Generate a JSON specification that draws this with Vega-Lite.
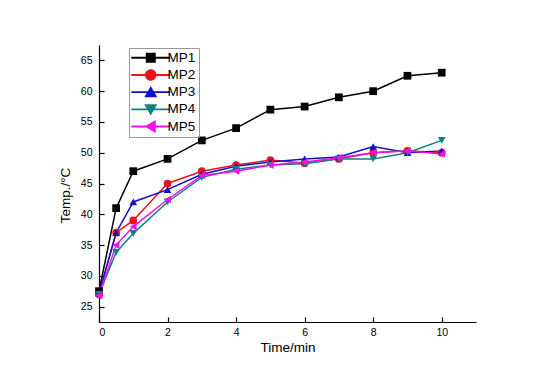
{
  "$schema": "https://vega.github.io/schema/vega-lite/v6.json",
  "autosize": {"type": "none"},
  "width": 377,
  "height": 277,
  "padding": {"left": 99, "top": 45, "right": 77, "bottom": 65},
  "background": "white",
  "config": {
    "view": {"stroke": null},
    "font": "Liberation Sans",
    "axis": {
      "domainColor": "black", "domainWidth": 1.2, "tickColor": "black", "tickWidth": 1.2,
      "tickSize": -5, "labelColor": "black", "labelFontSize": 10.5, "labelFont": "Liberation Sans",
      "titleFont": "Liberation Sans", "titleFontWeight": "normal", "titleFontSize": 13.5, "titleColor": "black",
      "grid": false
    }
  },
  "data": {"values": [
    {"t": 0, "series": "MP1", "temp": 27.5}, {"t": 0.5, "series": "MP1", "temp": 41}, {"t": 1, "series": "MP1", "temp": 47}, {"t": 2, "series": "MP1", "temp": 49}, {"t": 3, "series": "MP1", "temp": 52}, {"t": 4, "series": "MP1", "temp": 54}, {"t": 5, "series": "MP1", "temp": 57}, {"t": 6, "series": "MP1", "temp": 57.5}, {"t": 7, "series": "MP1", "temp": 59}, {"t": 8, "series": "MP1", "temp": 60}, {"t": 9, "series": "MP1", "temp": 62.5}, {"t": 10, "series": "MP1", "temp": 63},
    {"t": 0, "series": "MP2", "temp": 27}, {"t": 0.5, "series": "MP2", "temp": 37}, {"t": 1, "series": "MP2", "temp": 39}, {"t": 2, "series": "MP2", "temp": 45}, {"t": 3, "series": "MP2", "temp": 47}, {"t": 4, "series": "MP2", "temp": 48}, {"t": 5, "series": "MP2", "temp": 48.8}, {"t": 6, "series": "MP2", "temp": 48.3}, {"t": 7, "series": "MP2", "temp": 49}, {"t": 8, "series": "MP2", "temp": 50}, {"t": 9, "series": "MP2", "temp": 50.3}, {"t": 10, "series": "MP2", "temp": 50},
    {"t": 0, "series": "MP3", "temp": 27.2}, {"t": 0.5, "series": "MP3", "temp": 37}, {"t": 1, "series": "MP3", "temp": 42}, {"t": 2, "series": "MP3", "temp": 44}, {"t": 3, "series": "MP3", "temp": 46.5}, {"t": 4, "series": "MP3", "temp": 47.8}, {"t": 5, "series": "MP3", "temp": 48.5}, {"t": 6, "series": "MP3", "temp": 49}, {"t": 7, "series": "MP3", "temp": 49.3}, {"t": 8, "series": "MP3", "temp": 51}, {"t": 9, "series": "MP3", "temp": 50}, {"t": 10, "series": "MP3", "temp": 50.3},
    {"t": 0, "series": "MP4", "temp": 27}, {"t": 0.5, "series": "MP4", "temp": 33.8}, {"t": 1, "series": "MP4", "temp": 36.9}, {"t": 2, "series": "MP4", "temp": 42}, {"t": 3, "series": "MP4", "temp": 46}, {"t": 4, "series": "MP4", "temp": 47.3}, {"t": 5, "series": "MP4", "temp": 48}, {"t": 6, "series": "MP4", "temp": 48.2}, {"t": 7, "series": "MP4", "temp": 49}, {"t": 8, "series": "MP4", "temp": 49}, {"t": 9, "series": "MP4", "temp": 50}, {"t": 10, "series": "MP4", "temp": 52},
    {"t": 0, "series": "MP5", "temp": 26.8}, {"t": 0.5, "series": "MP5", "temp": 35}, {"t": 1, "series": "MP5", "temp": 38}, {"t": 2, "series": "MP5", "temp": 42.4}, {"t": 3, "series": "MP5", "temp": 46.3}, {"t": 4, "series": "MP5", "temp": 47}, {"t": 5, "series": "MP5", "temp": 48}, {"t": 6, "series": "MP5", "temp": 48.5}, {"t": 7, "series": "MP5", "temp": 49.2}, {"t": 8, "series": "MP5", "temp": 50}, {"t": 9, "series": "MP5", "temp": 50.3}, {"t": 10, "series": "MP5", "temp": 49.8}
  ]},
  "encoding": {
    "x": {"field": "t", "type": "quantitative", "scale": {"domain": [0, 11], "nice": false, "zero": false},
      "axis": {"values": [0, 2, 4, 6, 8, 10], "title": "Time/min", "labelPadding": 10, "titlePadding": 3}},
    "y": {"field": "temp", "type": "quantitative", "scale": {"domain": [22.5, 67.5], "nice": false, "zero": false},
      "axis": {"values": [25, 30, 35, 40, 45, 50, 55, 60, 65], "title": "Temp./°C", "labelPadding": 12, "titlePadding": 8, "titleY": 150}}
  },
  "layer": [
    {
      "mark": {"type": "line", "strokeWidth": 1.5},
      "encoding": {
        "color": {"field": "series", "type": "nominal", "legend": null,
          "scale": {"domain": ["MP1", "MP2", "MP3", "MP4", "MP5"], "range": ["#000000", "#e8141a", "#1010d0", "#108080", "#f010f0"]}}
      }
    },
    {
      "mark": {"type": "point", "filled": true, "opacity": 1, "size": 60},
      "encoding": {
        "color": {"field": "series", "type": "nominal", "legend": null,
          "scale": {"domain": ["MP1", "MP2", "MP3", "MP4", "MP5"], "range": ["#000000", "#e8141a", "#1010d0", "#108080", "#f010f0"]}},
        "shape": {"field": "series", "type": "nominal", "legend": null,
          "scale": {"domain": ["MP1", "MP2", "MP3", "MP4", "MP5"], "range": ["square", "circle", "triangle-up", "triangle-down", "triangle-left"]}}
      }
    },
    {
      "transform": [{"filter": "datum.t < -100"}],
      "mark": {"type": "point", "filled": true, "opacity": 1, "size": 64},
      "encoding": {
        "color": {"field": "series", "type": "nominal",
          "scale": {"domain": ["MP1", "MP2", "MP3", "MP4", "MP5"], "range": ["#000000", "#e8141a", "#1010d0", "#108080", "#f010f0"]},
          "legend": {"orient": "none", "legendX": 30, "legendY": 3, "title": null, "strokeColor": "#999999",
            "labelFontSize": 13.5, "labelFont": "Liberation Sans", "labelColor": "black", "labelOffset": 10, "symbolOffset": 12,
            "symbolStrokeWidth": 0, "rowPadding": 2.2, "padding": 3}},
        "shape": {"field": "series", "type": "nominal",
          "scale": {"domain": ["MP1", "MP2", "MP3", "MP4", "MP5"], "range": [
            "M-3.9,-0.19H3.9V0.19H-3.9Z M-1,-1H1V1H-1Z",
            "M-3.9,-0.19H3.9V0.19H-3.9Z M-1.15,0A1.15,1.15 0 1,1 1.15,0A1.15,1.15 0 1,1 -1.15,0Z",
            "M-3.9,-0.19H3.9V0.19H-3.9Z M0,-1.25L1.3,1L-1.3,1Z",
            "M-3.9,-0.19H3.9V0.19H-3.9Z M-1.3,-1L1.3,-1L0,1.25Z",
            "M-3.9,-0.19H3.9V0.19H-3.9Z M-1.25,0L1,-1.3L1,1.3Z"
          ]},
          "legend": {"orient": "none", "legendX": 30, "legendY": 3, "title": null, "strokeColor": "#999999",
            "labelFontSize": 13.5, "labelFont": "Liberation Sans", "labelColor": "black", "labelOffset": 10, "symbolOffset": 12,
            "symbolStrokeWidth": 0, "rowPadding": 2.2, "padding": 3}}
      }
    }
  ],
  "resolve": {"scale": {"color": "independent", "shape": "independent"}}
}
